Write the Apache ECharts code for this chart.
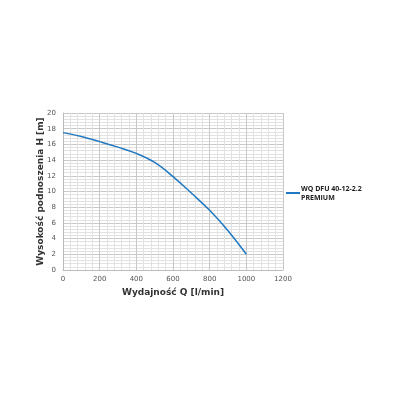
<!DOCTYPE html>
<html>
<head>
<meta charset="utf-8">
<script src="https://cdn.jsdelivr.net/npm/echarts@6/dist/echarts.min.js"></script>
<style>
  html, body { margin: 0; padding: 0; background: #fff; }
  #chart { width: 400px; height: 400px; }
</style>
</head>
<body>
<div id="chart"></div>
<script>
// Q [l/min] vs H [m]
const flowQ = [0, 100, 200, 300, 400, 500, 600, 700, 800, 900, 1000];
const headH = [17.5, 17.0, 16.35, 15.65, 14.85, 13.7, 11.9, 9.8, 7.6, 5.0, 2.0];
const seriesName = 'WQ DFU 40-12-2.2\nPREMIUM';

const chart = echarts.init(document.getElementById('chart'));

const gridLine = { show: true, lineStyle: { color: '#c8c8c8', width: 1 } };
const minorLine = { show: true, lineStyle: { color: '#e2e2e2', width: 1 } };
const tickLabel = { color: '#555', fontSize: 7, fontFamily: 'DejaVu Sans' };

chart.setOption({
  animation: false,
  grid: { left: 63, right: 117, top: 113, bottom: 130 },
  legend: {
    data: [seriesName],
    orient: 'vertical',
    left: 281,
    top: 175,
    icon: 'rect',
    itemWidth: 14,
    itemHeight: 2,
    itemGap: 4,
    textStyle: { color: '#222', fontSize: 7, fontWeight: 'bold', fontFamily: 'Open Sans', lineHeight: 9, padding: [8, 0, 0, -4] }
  },
  xAxis: {
    type: 'value',
    min: 0,
    max: 1200,
    interval: 200,
    name: 'Wydajność Q [l/min]',
    nameLocation: 'middle',
    nameGap: 18,
    nameTextStyle: { color: '#333', fontSize: 9, fontWeight: 'bold', fontFamily: 'DejaVu Sans' },
    axisLine: { show: true, lineStyle: { color: '#bbb' } },
    axisTick: { show: false },
    axisLabel: Object.assign({ margin: 6, formatter: v => String(v) }, tickLabel),
    splitLine: gridLine,
    minorTick: { show: false, splitNumber: 5 },
    minorSplitLine: minorLine
  },
  yAxis: {
    type: 'value',
    min: 0,
    max: 20,
    interval: 2,
    name: 'Wysokość podnoszenia H [m]',
    nameLocation: 'middle',
    nameGap: 18,
    nameMoveOverlap: false,
    nameTextStyle: { color: '#333', fontSize: 9, fontWeight: 'bold', fontFamily: 'DejaVu Sans' },
    axisLine: { show: true, lineStyle: { color: '#bbb' } },
    axisTick: { show: false },
    axisLabel: Object.assign({ margin: 7 }, tickLabel),
    splitLine: gridLine,
    minorTick: { show: false, splitNumber: 5 },
    minorSplitLine: minorLine
  },
  series: [{
    name: seriesName,
    type: 'line',
    data: flowQ.map((q, i) => [q, headH[i]]),
    smooth: 0.4,
    showSymbol: false,
    lineStyle: { color: '#1f78c1', width: 1.5 },
    itemStyle: { color: '#1f78c1' }
  }]
});
</script>
</body>
</html>
